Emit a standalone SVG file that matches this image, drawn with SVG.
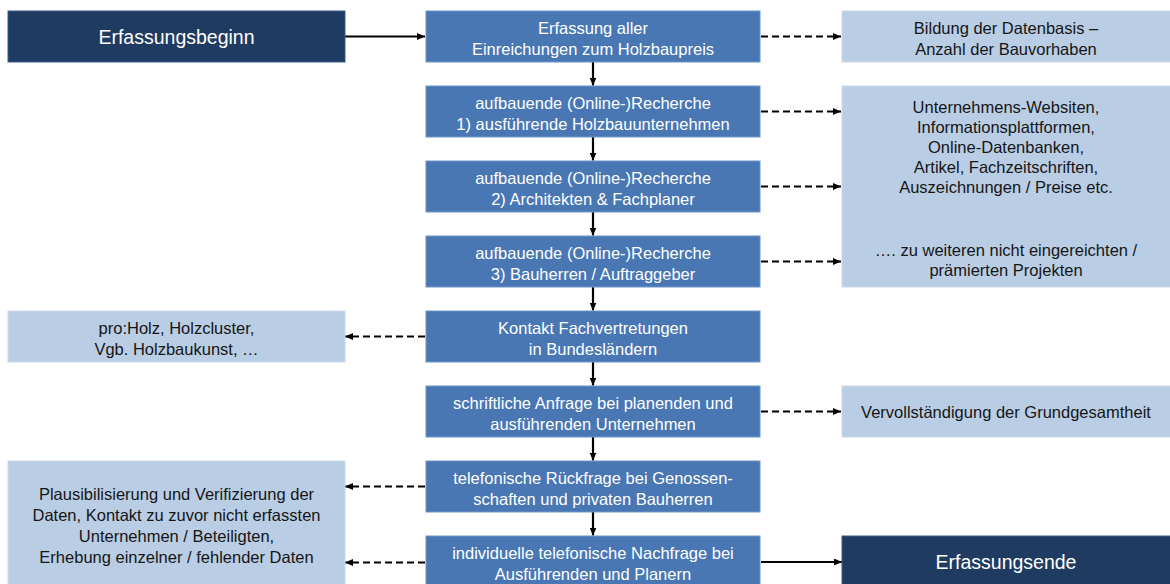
<svg xmlns="http://www.w3.org/2000/svg" width="1170" height="584" viewBox="0 0 1170 584">
<defs>
<style>
.dark{fill:#1f3b62;stroke:#3d5c86;stroke-width:1}
.mid{fill:#4977b3;stroke:#6f96c8;stroke-width:1}
.light{fill:#b9cde5;stroke:#cbd9ec;stroke-width:1}
text{font-family:"Liberation Sans",Arial,sans-serif;text-anchor:middle}
.tw{fill:#ffffff;font-size:16.5px}
.tb{fill:#161616;font-size:16.5px}
.big{fill:#ffffff;font-size:19.5px}
.solid{stroke:#000;stroke-width:2.2;fill:none}
.dash{stroke:#000;stroke-width:2.2;fill:none;stroke-dasharray:7 4}
</style>
<marker id="ah" viewBox="0 0 8 7" refX="8" refY="3.5" markerWidth="8" markerHeight="7" markerUnits="userSpaceOnUse" orient="auto">
<path d="M0,0 L8,3.5 L0,7 z" fill="#000"/>
</marker>
</defs>
<rect width="1170" height="584" fill="#ffffff"/>

<g id="connectors">
<line class="solid" x1="345" y1="36.5" x2="425" y2="36.5" marker-end="url(#ah)"/>
<line class="solid" x1="593" y1="62" x2="593" y2="85.5" marker-end="url(#ah)"/>
<line class="solid" x1="593" y1="137" x2="593" y2="160.5" marker-end="url(#ah)"/>
<line class="solid" x1="593" y1="212" x2="593" y2="235.5" marker-end="url(#ah)"/>
<line class="solid" x1="593" y1="287" x2="593" y2="310.5" marker-end="url(#ah)"/>
<line class="solid" x1="593" y1="362" x2="593" y2="385.5" marker-end="url(#ah)"/>
<line class="solid" x1="593" y1="437" x2="593" y2="460.5" marker-end="url(#ah)"/>
<line class="solid" x1="593" y1="512" x2="593" y2="535.5" marker-end="url(#ah)"/>
<line class="dash" x1="761" y1="36.5" x2="841" y2="36.5" marker-end="url(#ah)"/>
<line class="dash" x1="761" y1="111.5" x2="841" y2="111.5" marker-end="url(#ah)"/>
<line class="dash" x1="761" y1="186.5" x2="841" y2="186.5" marker-end="url(#ah)"/>
<line class="dash" x1="761" y1="261.5" x2="841" y2="261.5" marker-end="url(#ah)"/>
<line class="dash" x1="761" y1="411.5" x2="841" y2="411.5" marker-end="url(#ah)"/>
<line class="dash" x1="425" y1="336.5" x2="345" y2="336.5" marker-end="url(#ah)"/>
<line class="dash" x1="425" y1="486.5" x2="345" y2="486.5" marker-end="url(#ah)"/>
<line class="dash" x1="425" y1="562.5" x2="345" y2="562.5" marker-end="url(#ah)"/>
<line class="solid" x1="761" y1="562" x2="842" y2="562" marker-end="url(#ah)"/>
</g>

<g id="n-beginn">
<rect class="dark" x="8" y="11" width="337" height="51"/>
<text class="big" x="176.5" y="43.5">Erfassungsbeginn</text>
</g>

<g id="n-c1">
<rect class="mid" x="426" y="11" width="334" height="51"/>
<text class="tw" x="593" y="33.5">Erfassung aller</text>
<text class="tw" x="593" y="54.5">Einreichungen zum Holzbaupreis</text>
</g>
<g id="n-c2">
<rect class="mid" x="426" y="86" width="334" height="51"/>
<text class="tw" x="593" y="108.5">aufbauende (Online-)Recherche</text>
<text class="tw" x="593" y="129.5">1) ausführende Holzbauunternehmen</text>
</g>
<g id="n-c3">
<rect class="mid" x="426" y="161" width="334" height="51"/>
<text class="tw" x="593" y="183.5">aufbauende (Online-)Recherche</text>
<text class="tw" x="593" y="204.5">2) Architekten &amp; Fachplaner</text>
</g>
<g id="n-c4">
<rect class="mid" x="426" y="236" width="334" height="51"/>
<text class="tw" x="593" y="258.5">aufbauende (Online-)Recherche</text>
<text class="tw" x="593" y="279.5">3) Bauherren / Auftraggeber</text>
</g>
<g id="n-c5">
<rect class="mid" x="426" y="311" width="334" height="51"/>
<text class="tw" x="593" y="333.5">Kontakt Fachvertretungen</text>
<text class="tw" x="593" y="354.5">in Bundesländern</text>
</g>
<g id="n-c6">
<rect class="mid" x="426" y="386" width="334" height="51"/>
<text class="tw" x="593" y="408.5">schriftliche Anfrage bei planenden und</text>
<text class="tw" x="593" y="429.5">ausführenden Unternehmen</text>
</g>
<g id="n-c7">
<rect class="mid" x="426" y="461" width="334" height="51"/>
<text class="tw" x="593" y="483.5">telefonische Rückfrage bei Genossen-</text>
<text class="tw" x="593" y="504.5">schaften und privaten Bauherren</text>
</g>
<g id="n-c8">
<rect class="mid" x="426" y="536" width="334" height="51"/>
<text class="tw" x="593" y="558.5">individuelle telefonische Nachfrage bei</text>
<text class="tw" x="593" y="579.5">Ausführenden und Planern</text>
</g>

<g id="n-r1">
<rect class="light" x="842" y="11" width="332" height="51"/>
<text class="tb" x="1006" y="33.5">Bildung der Datenbasis –</text>
<text class="tb" x="1006" y="54.5">Anzahl der Bauvorhaben</text>
</g>
<g id="n-r2">
<rect class="light" x="842" y="86" width="332" height="201"/>
<text class="tb" x="1006" y="113">Unternehmens-Websiten,</text>
<text class="tb" x="1006" y="133">Informationsplattformen,</text>
<text class="tb" x="1006" y="153">Online-Datenbanken,</text>
<text class="tb" x="1006" y="173">Artikel, Fachzeitschriften,</text>
<text class="tb" x="1006" y="193">Auszeichnungen / Preise etc.</text>
<text class="tb" x="1006" y="256">…. zu weiteren nicht eingereichten /</text>
<text class="tb" x="1006" y="276">prämierten Projekten</text>
</g>
<g id="n-r3">
<rect class="light" x="842" y="386" width="332" height="51"/>
<text class="tb" x="1006" y="417.5">Vervollständigung der Grundgesamtheit</text>
</g>
<g id="n-ende">
<rect class="dark" x="842" y="536" width="332" height="51"/>
<text class="big" x="1006" y="569">Erfassungsende</text>
</g>

<g id="n-l2">
<rect class="light" x="8" y="311" width="337" height="51"/>
<text class="tb" x="176.5" y="333.5">pro:Holz, Holzcluster,</text>
<text class="tb" x="176.5" y="354.5">Vgb. Holzbaukunst, …</text>
</g>
<g id="n-l3">
<rect class="light" x="8" y="461" width="337" height="126"/>
<text class="tb" x="176.5" y="500">Plausibilisierung und Verifizierung der</text>
<text class="tb" x="176.5" y="521">Daten, Kontakt zu zuvor nicht erfassten</text>
<text class="tb" x="176.5" y="542">Unternehmen / Beteiligten,</text>
<text class="tb" x="176.5" y="563">Erhebung einzelner / fehlender Daten</text>
</g>
</svg>
